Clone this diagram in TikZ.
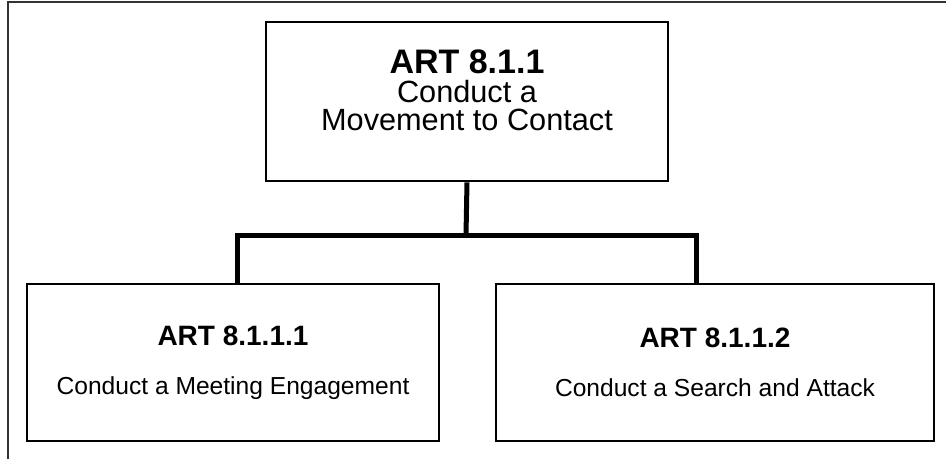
\documentclass[tikz,border=0pt]{standalone}
\usepackage{fontspec}
\setmainfont{Liberation Sans}
\usepackage{tikz}
\usetikzlibrary{calc}

\begin{document}
\begin{tikzpicture}[
  x=1pt, y=-1pt,
  artbox/.style={draw, line width=2.6pt, align=center, inner sep=0pt},
  tie/.style={line width=5pt},
  frame/.style={line width=1.6pt, draw=black!80}
]
\useasboundingbox (0,0) rectangle (946,459);
\draw[frame] (8,459) -- (8,2) -- (946,2);
\node[artbox, minimum width=402pt, minimum height=159pt, text depth=23pt,
      font=\fontsize{30.7}{28}\selectfont] (move) at (467,101.5)
  {{\bfseries\fontsize{34}{28}\selectfont ART 8.1.1}\\[1.5pt]Conduct a\\Movement to Contact};
\node[artbox, minimum width=412pt, minimum height=157pt,
      font=\fontsize{24.6}{26}\selectfont] (meet) at (233,362.5)
  {{\bfseries\fontsize{28}{28}\selectfont ART 8.1.1.1}\\[23pt]Conduct a Meeting Engagement};
\node[artbox, minimum width=438pt, minimum height=157pt,
      font=\fontsize{24.6}{26}\selectfont] (search) at (715,362.5)
  {{\bfseries\fontsize{28}{28}\selectfont ART 8.1.1.2}\\[23pt]Conduct a Search and Attack};
\coordinate (bus) at (466,235);
\draw[tie] (move.south) -- (bus);
\draw[tie] ([xshift=4pt]meet.north) |- (bus) -| ([xshift=-19pt]search.north);
\end{tikzpicture}
\end{document}
